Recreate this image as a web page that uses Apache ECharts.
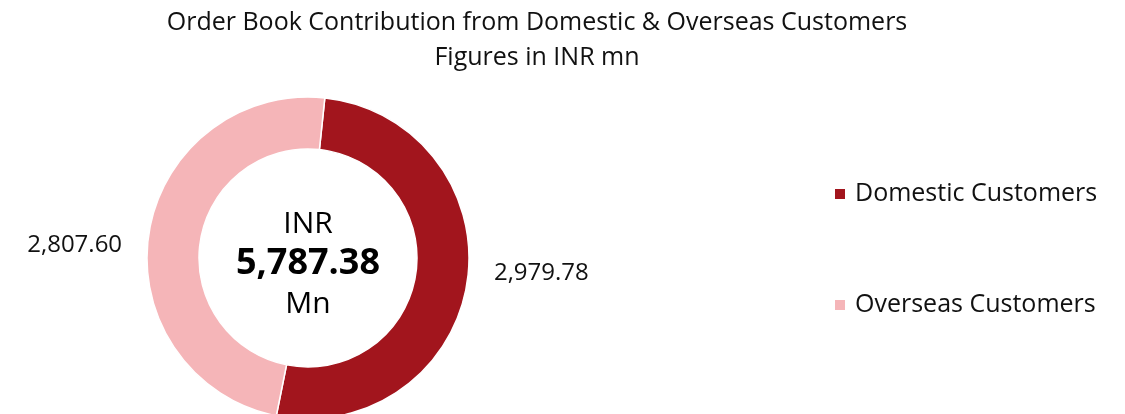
<!DOCTYPE html>
<html>
<head>
<meta charset="utf-8">
<script src="https://cdn.jsdelivr.net/npm/echarts@6/dist/echarts.min.js"></script>
<style>
  html, body { margin: 0; padding: 0; background: #fff; }
  #chart { width: 1125px; height: 414px; }
</style>
</head>
<body>
<div id="chart"></div>
<script>
// ---- data ----
const categories = ['Domestic Customers', 'Overseas Customers']
const values = [2979.78, 2807.60]
const colors = ['#A2151D', '#F5B5B8']

const FONT = '"Open Sans", "Noto Sans", sans-serif'
const total = values.reduce((a, b) => a + b, 0)
const fmt = (v) => v.toLocaleString('en-US', { minimumFractionDigits: 2, maximumFractionDigits: 2 })

// pie centre (px)
const CX = 308
const CY = 258

const chart = echarts.init(document.getElementById('chart'))

chart.setOption({
  backgroundColor: '#fff',
  animation: false,
  title: {
    text: 'Order Book Contribution from Domestic & Overseas Customers',
    subtext: 'Figures in INR mn',
    left: 537,
    top: 8,
    padding: 0,
    textAlign: 'center',
    itemGap: 5,
    textStyle: { fontFamily: FONT, fontSize: 25, fontWeight: 'normal', color: '#111', lineHeight: 30 },
    subtextStyle: { fontFamily: FONT, fontSize: 25, color: '#111', lineHeight: 30 },
  },
  legend: {
    orient: 'vertical',
    left: 833,
    top: 179,
    padding: 0,
    icon: 'rect',
    itemWidth: 12,
    itemHeight: 12,
    itemGap: 81,
    data: categories,
    textStyle: { fontFamily: FONT, fontSize: 25, color: '#111', lineHeight: 30, padding: [0, 0, 0, 4] },
  },
  graphic: [
    {
      type: 'text',
      x: CX,
      y: 264,
      style: {
        text: '{a|INR}\n{b|' + fmt(total) + '}\n{a|Mn}',
        align: 'center',
        verticalAlign: 'middle',
        rich: {
          a: { fontFamily: FONT, fontSize: 30, color: '#111', lineHeight: 40, align: 'center' },
          b: { fontFamily: FONT, fontSize: 36, fontWeight: 'bold', color: '#000', lineHeight: 40, align: 'center' },
        },
      },
    },
  ],
  series: [
    {
      type: 'pie',
      center: [CX, CY],
      radius: [109, 161],
      startAngle: 84,
      clockwise: true,
      avoidLabelOverlap: false,
      itemStyle: { borderColor: '#fff', borderWidth: 1.5 },
      label: {
        show: true,
        position: 'outside',
        alignTo: 'none',
        fontFamily: FONT,
        fontSize: 24,
        color: '#111',
        formatter: (p) => fmt(p.value),
      },
      labelLine: { show: false, length: 22, length2: 0 },
      labelLayout: (p) => ({ dy: p.dataIndex === 0 ? -12 : 15 }),
      emphasis: { disabled: true },
      data: categories.map((name, i) => ({
        name,
        value: values[i],
        itemStyle: { color: colors[i] },
      })),
    },
  ],
})
</script>
</body>
</html>
